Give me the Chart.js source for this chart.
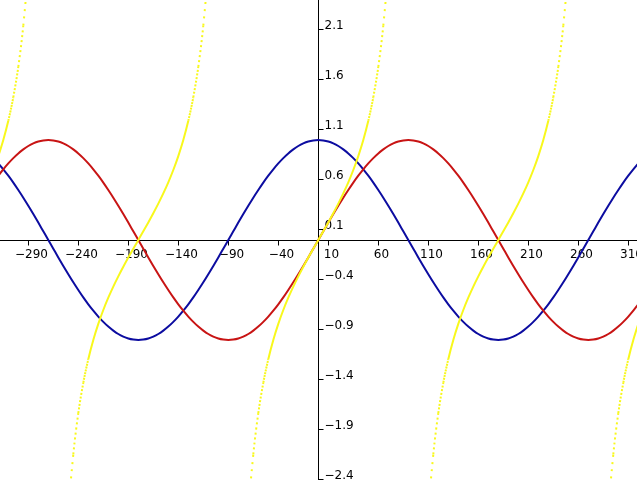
<!DOCTYPE html>
<html>
<head>
<meta charset="utf-8">
<script src="https://cdn.jsdelivr.net/npm/chart.js@4/dist/chart.umd.min.js"></script>
<style>
  html, body { margin: 0; padding: 0; background: #ffffff; }
  #wrap { width: 637px; height: 480px; }
</style>
</head>
<body>
<div id="wrap"><canvas id="myChart"></canvas></div>
<script>
// angle in degrees, every 5 from -320 to 320
var angles = [];
for (var a = -320; a <= 320; a += 5) angles.push(a);

var sinValues = [
  .643, .707, .766, .819, .866, .906, .940, .966, .985, .996, 1, .996, .985, .966, .940, .906, .866, .819, .766, .707, .643, .574, .5, .423, .342, .259, .174, .087, 0,
  -.087, -.174, -.259, -.342, -.423, -.5, -.574, -.643, -.707, -.766, -.819, -.866, -.906, -.940, -.966, -.985, -.996, -1, -.996, -.985, -.966, -.940, -.906, -.866, -.819, -.766, -.707, -.643, -.574, -.5, -.423, -.342, -.259, -.174, -.087, 0,
  .087, .174, .259, .342, .423, .5, .574, .643, .707, .766, .819, .866, .906, .940, .966, .985, .996, 1, .996, .985, .966, .940, .906, .866, .819, .766, .707, .643, .574, .5, .423, .342, .259, .174, .087, 0,
  -.087, -.174, -.259, -.342, -.423, -.5, -.574, -.643, -.707, -.766, -.819, -.866, -.906, -.940, -.966, -.985, -.996, -1, -.996, -.985, -.966, -.940, -.906, -.866, -.819, -.766, -.707, -.643
];

var cosValues = [
  .766, .707, .643, .574, .5, .423, .342, .259, .174, .087, 0,
  -.087, -.174, -.259, -.342, -.423, -.5, -.574, -.643, -.707, -.766, -.819, -.866, -.906, -.940, -.966, -.985, -.996, -1, -.996, -.985, -.966, -.940, -.906, -.866, -.819, -.766, -.707, -.643, -.574, -.5, -.423, -.342, -.259, -.174, -.087, 0,
  .087, .174, .259, .342, .423, .5, .574, .643, .707, .766, .819, .866, .906, .940, .966, .985, .996, 1, .996, .985, .966, .940, .906, .866, .819, .766, .707, .643, .574, .5, .423, .342, .259, .174, .087, 0,
  -.087, -.174, -.259, -.342, -.423, -.5, -.574, -.643, -.707, -.766, -.819, -.866, -.906, -.940, -.966, -.985, -.996, -1, -.996, -.985, -.966, -.940, -.906, -.866, -.819, -.766, -.707, -.643, -.574, -.5, -.423, -.342, -.259, -.174, -.087, 0,
  .087, .174, .259, .342, .423, .5, .574, .643, .707, .766
];

// null where the tangent runs off to its asymptotes
var tanValues = [
  .839, 1, 1.192, 1.428, 1.732, 2.145, 2.747, 3.732, 5.671, null, null, null,
  -5.671, -3.732, -2.747, -2.145, -1.732, -1.428, -1.192, -1, -.839, -.700, -.577, -.466, -.364, -.268, -.176, -.087, 0,
  .087, .176, .268, .364, .466, .577, .700, .839, 1, 1.192, 1.428, 1.732, 2.145, 2.747, 3.732, 5.671, null, null, null,
  -5.671, -3.732, -2.747, -2.145, -1.732, -1.428, -1.192, -1, -.839, -.700, -.577, -.466, -.364, -.268, -.176, -.087, 0,
  .087, .176, .268, .364, .466, .577, .700, .839, 1, 1.192, 1.428, 1.732, 2.145, 2.747, 3.732, 5.671, null, null, null,
  -5.671, -3.732, -2.747, -2.145, -1.732, -1.428, -1.192, -1, -.839, -.700, -.577, -.466, -.364, -.268, -.176, -.087, 0,
  .087, .176, .268, .364, .466, .577, .700, .839, 1, 1.192, 1.428, 1.732, 2.145, 2.747, 3.732, 5.671, null, null, null,
  -5.671, -3.732, -2.747, -2.145, -1.732, -1.428, -1.192, -1, -.839
];

var xTickValues = [-290, -240, -190, -140, -90, -40, 10, 60, 110, 160, 210, 260, 310];
var yTickValues = [2.1, 1.6, 1.1, 0.6, 0.1, -0.4, -0.9, -1.4, -1.9, -2.4];
var yTickLabels = ['2.1', '1.6', '1.1', '0.6', '0.1', '\u22120.4', '\u22120.9', '\u22121.4', '\u22121.9', '\u22122.4'];

function toPoints(values) {
  return angles.map(function(x, i) { return { x: x, y: values[i] }; });
}

// dots get sparser where the tangent is steep, solid near the origin
function tanDash(ctx) {
  var dx = Math.abs(ctx.p1.x - ctx.p0.x) || 1;
  var s = Math.abs(ctx.p1.y - ctx.p0.y) / dx;
  var period = 0.6 * Math.sqrt(1 + s * s);
  if (period < 2.6) return [];
  return [2, period - 2];
}

// axes crossing at the origin, ticks and labels next to them
var centerAxes = {
  id: 'centerAxes',
  beforeDatasetsDraw: function(chart) {
    var ctx = chart.ctx;
    var area = chart.chartArea;
    var xs = chart.scales.x, ys = chart.scales.y;
    var x0 = Math.round(xs.getPixelForValue(0)) + 0.5;
    var y0 = Math.round(ys.getPixelForValue(0)) + 0.5;

    ctx.save();
    ctx.strokeStyle = '#000000';
    ctx.lineWidth = 1;
    ctx.beginPath();
    ctx.moveTo(area.left, y0); ctx.lineTo(area.right, y0);
    ctx.moveTo(x0, area.top); ctx.lineTo(x0, area.bottom);
    ctx.stroke();

    ctx.fillStyle = '#000000';
    ctx.font = '12px "DejaVu Sans"';

    ctx.textAlign = 'center';
    ctx.textBaseline = 'alphabetic';
    xTickValues.forEach(function(v) {
      var px = Math.round(xs.getPixelForValue(v)) + 0.5;
      ctx.beginPath();
      ctx.moveTo(px, y0); ctx.lineTo(px, y0 + 5);
      ctx.stroke();
      var label = v < 0 ? '\u2212' + Math.abs(v) : String(v);
      ctx.fillText(label, px + 3, y0 + 17.5);
    });

    ctx.textAlign = 'left';
    yTickValues.forEach(function(v, i) {
      var py = Math.round(ys.getPixelForValue(v)) - 0.5;
      ctx.beginPath();
      ctx.moveTo(x0, py); ctx.lineTo(x0 + 5, py);
      ctx.stroke();
      ctx.fillText(yTickLabels[i], x0 + 6, py - 1);
    });
    ctx.restore();
  }
};

var chart = new Chart(document.getElementById('myChart'), {
  type: 'line',
  data: {
    datasets: [
      {
        label: 'tan',
        data: toPoints(tanValues),
        borderColor: '#f8f81c',
        borderWidth: 2,
        borderCapStyle: 'butt',
        pointRadius: 0,
        spanGaps: false,
        cubicInterpolationMode: 'monotone',
        segment: { borderDash: tanDash }
      },
      {
        label: 'sin',
        data: toPoints(sinValues),
        borderColor: '#c81414',
        borderWidth: 2,
        pointRadius: 0,
        cubicInterpolationMode: 'monotone'
      },
      {
        label: 'cos',
        data: toPoints(cosValues),
        borderColor: '#0c0ca0',
        borderWidth: 2,
        pointRadius: 0,
        cubicInterpolationMode: 'monotone'
      }
    ]
  },
  options: {
    animation: false,
    responsive: true,
    maintainAspectRatio: false,
    events: [],
    layout: { padding: 0 },
    scales: {
      x: { type: 'linear', min: -318.3, max: 318.7, display: false },
      y: { type: 'linear', min: -2.4, max: 2.4, display: false }
    },
    plugins: {
      legend: { display: false },
      tooltip: { enabled: false }
    }
  },
  plugins: [centerAxes]
});
</script>
</body>
</html>
